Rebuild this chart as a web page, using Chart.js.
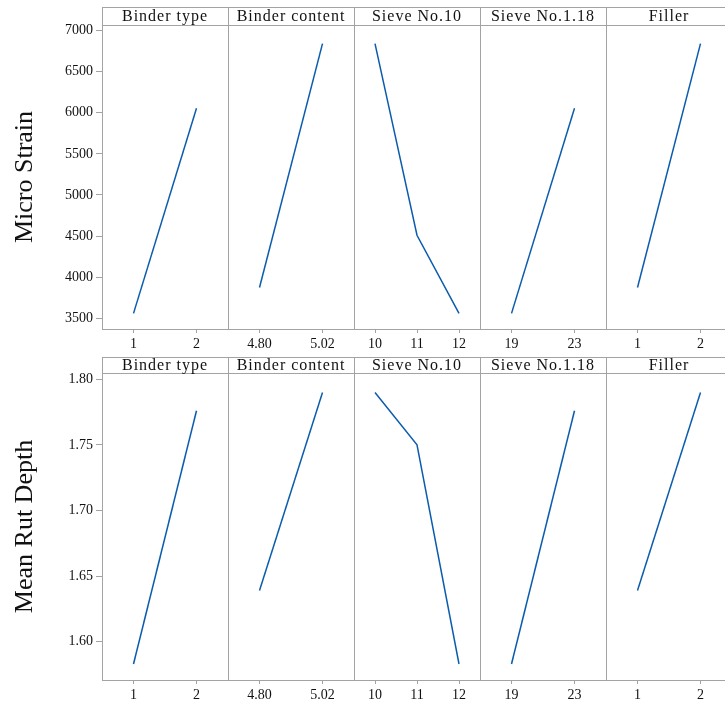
<!DOCTYPE html>
<html>
<head>
<title>Main Effects Plot</title>
<style>
  html, body { margin: 0; padding: 0; background: #fff; overflow: hidden; }
  .row { width: 732px; }
  canvas { display: block; }
</style>
</head>
<body>
<div class="row"><canvas id="strainChart" width="732" height="350"></canvas></div>
<div class="row"><canvas id="rutChart" width="732" height="352"></canvas></div>

<script src="https://cdn.jsdelivr.net/npm/chart.js"></script>
<script>
// factors and their levels (one panel per factor)
const factors = ['Binder type', 'Binder content', 'Sieve No.10', 'Sieve No.1.18', 'Filler'];
const levels = [['1', '2'], ['4.80', '5.02'], ['10', '11', '12'], ['19', '23'], ['1', '2']];

// means
const strainMeans = [[3560, 6055], [3875, 6840], [6840, 4510, 3560], [3560, 6055], [3875, 6840]];
const rutMeans = [[1.583, 1.776], [1.639, 1.790], [1.790, 1.750, 1.583], [1.583, 1.776], [1.639, 1.790]];

const strainTicks = [3500, 4000, 4500, 5000, 5500, 6000, 6500, 7000];
const rutTicks = [1.60, 1.65, 1.70, 1.75, 1.80];

const lineColor = '#0b5cad';
const frameColor = '#a3a3a3';
const serif = '"Liberation Serif", "DejaVu Serif", serif';

// panel borders and the header strip with the factor name
const panelFrame = {
    id: 'panelFrame',
    afterDraw(chart, args, opts) {
        const ctx = chart.ctx;
        const area = chart.chartArea;
        const top = area.top - opts.headerHeight;
        const px = v => Math.round(v) + 0.5;
        ctx.save();
        ctx.strokeStyle = frameColor;
        ctx.lineWidth = 1;
        ctx.beginPath();
        ctx.moveTo(area.left, px(top));
        ctx.lineTo(area.right, px(top));
        ctx.moveTo(area.left, px(area.top));
        ctx.lineTo(area.right, px(area.top));
        factors.forEach((name, i) => {
            const s = chart.scales['x' + i];
            ctx.moveTo(px(s.left), top);
            ctx.lineTo(px(s.left), area.bottom);
            ctx.moveTo(px(s.right), top);
            ctx.lineTo(px(s.right), area.bottom);
        });
        ctx.stroke();
        ctx.fillStyle = '#111';
        ctx.font = '16px ' + serif;
        ctx.letterSpacing = '1px';
        ctx.textAlign = 'center';
        ctx.textBaseline = 'middle';
        factors.forEach((name, i) => {
            const s = chart.scales['x' + i];
            ctx.fillText(name, (s.left + s.right) / 2, top + opts.headerHeight / 2 + 1);
        });
        ctx.restore();
    }
};

function buildChart(id, means, yTicks, yMin, yMax, yTitle, fmt, padTop, headerHeight, xHeight) {
    const scales = {
        y: {
            type: 'linear',
            position: 'left',
            min: yMin,
            max: yMax,
            afterBuildTicks: s => { s.ticks = yTicks.map(v => ({ value: v })); },
            afterFit: s => { s.width = 102; },
            grid: { drawOnChartArea: false, tickLength: 6, color: frameColor },
            border: { color: frameColor },
            ticks: { color: '#111', padding: 3, font: { family: serif, size: 14 }, callback: fmt },
            title: {
                display: true,
                text: yTitle,
                color: '#111',
                font: { family: serif, size: 26 },
                padding: { top: 10, bottom: 0 }
            }
        }
    };
    factors.forEach((name, i) => {
        scales['x' + i] = {
            type: 'category',
            labels: levels[i],
            position: 'bottom',
            stack: 'panels',
            stackWeight: 1,
            offset: true,
            afterFit: s => { s.height = xHeight; },
            grid: { drawOnChartArea: false, tickLength: 4, color: frameColor },
            border: { color: frameColor },
            ticks: { color: '#111', padding: 3, maxRotation: 0, font: { family: serif, size: 14 } }
        };
    });

    return new Chart(document.getElementById(id), {
        type: 'line',
        data: {
            datasets: factors.map((name, i) => ({
                label: name,
                data: means[i],
                xAxisID: 'x' + i,
                yAxisID: 'y',
                borderColor: lineColor,
                borderWidth: 1.5,
                pointRadius: 0,
                tension: 0
            }))
        },
        options: {
            responsive: false,
            animation: false,
            layout: { padding: { top: padTop, left: 0, right: 0, bottom: 0 } },
            plugins: {
                legend: { display: false },
                tooltip: { enabled: false },
                panelFrame: { headerHeight: headerHeight }
            },
            scales: scales
        },
        plugins: [panelFrame]
    });
}

buildChart('strainChart', strainMeans, strainTicks, 3370, 7067, 'Micro Strain',
    v => String(v), 25, 18, 21);
buildChart('rutChart', rutMeans, rutTicks, 1.5708, 1.8048, 'Mean Rut Depth',
    v => v.toFixed(2), 23, 16, 22);
</script>
</body>
</html>
